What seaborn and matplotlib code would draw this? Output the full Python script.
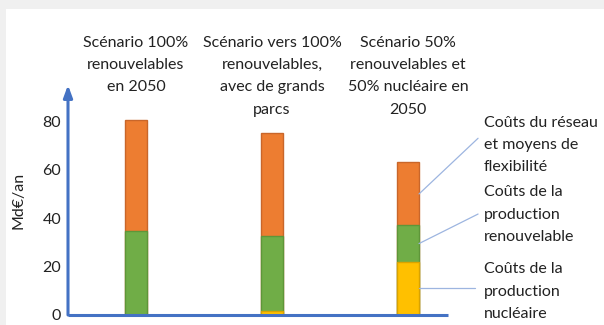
import matplotlib
matplotlib.use("Agg")
import matplotlib.pyplot as plt
import seaborn as sns
import pandas as pd

# Scenario costs (Md€/an)
scenarios = [
    "Scénario 100%\nrenouvelables\nen 2050",
    "Scénario vers 100%\nrenouvelables,\navec de grands\nparcs",
    "Scénario 50%\nrenouvelables et\n50% nucléaire en\n2050",
]
nucleaire = [0.0, 1.5, 22.0]
renouvelable = [34.5, 31.0, 15.0]
reseau = [46.0, 42.5, 26.0]

series_labels = [
    "Coûts de la\nproduction\nnucléaire",
    "Coûts de la\nproduction\nrenouvelable",
    "Coûts du réseau\net moyens de\nflexibilité",
]
yticks = [0, 20, 40, 60, 80]
ylabel = "Md€/an"

colors = ["#FFC000", "#70AD47", "#ED7D31"]
edges = ["#D9A300", "#5E9639", "#C9662A"]
axis_blue = "#4472C4"
leader_blue = "#9DB5E0"

sns.set_theme(style="white")
plt.rcParams["font.family"] = ["Lato", "DejaVu Sans"]

df = pd.DataFrame({
    "scenario": scenarios,
    "nucleaire": nucleaire,
    "renouvelable": renouvelable,
    "reseau": reseau,
})
df["cum1"] = df["nucleaire"]
df["cum2"] = df["cum1"] + df["renouvelable"]
df["cum3"] = df["cum2"] + df["reseau"]

fig = plt.figure(figsize=(6.04, 3.25), dpi=100, facecolor="#F0F0F0")
panel = plt.Rectangle((6 / 604, 0), 1 - 6 / 604, 1 - 9 / 325,
                      transform=fig.transFigure, facecolor="white",
                      edgecolor="none", zorder=-10)
fig.patches.append(panel)
ax = fig.add_axes([68 / 604, 10 / 325, 380 / 604, 230 / 325])
ax.set_facecolor("none")
ax.set_zorder(5)

bar_w = 0.162
# Stacked look: draw cumulative totals, tallest first
for col, c, e in zip(["cum3", "cum2", "cum1"], colors[::-1], edges[::-1]):
    sns.barplot(data=df, x="scenario", y=col, ax=ax, color=c, width=bar_w,
                edgecolor=e, linewidth=1.0, saturation=1)

ax.set_xlim(-0.5, 2.294)
ax.set_ylim(0, 95)
ax.set_yticks(yticks)
ax.set_yticklabels([str(v) for v in yticks], fontsize=11.5, color="#222222")
ax.tick_params(axis="y", length=0, pad=5)
ax.set_xticks([])
ax.set_xlabel("")
ax.set_ylabel(ylabel, fontsize=11.5, color="#222222", labelpad=12)
for s in ax.spines.values():
    s.set_visible(False)

# Axes drawn as blue lines, y-axis with arrow head
ax.plot([0, 1], [0, 0], transform=ax.transAxes, color=axis_blue, lw=2.2,
        clip_on=False, solid_capstyle="butt")
ax.annotate("", xy=(0, 1.0), xytext=(0, 0), xycoords="axes fraction",
            arrowprops=dict(arrowstyle="-|>,head_width=0.22,head_length=0.6",
                            color=axis_blue, lw=2.2, shrinkA=0, shrinkB=0))

# Scenario titles above each bar
for i, name in enumerate(scenarios):
    ax.text(i, 1.215, name, transform=ax.get_xaxis_transform(), ha="center",
            va="top", fontsize=11.5, linespacing=1.76, color="#222222")

# Series labels with leader lines to the last bar
last = len(scenarios) - 1
x_edge = last + bar_w / 2
mids = [df["cum1"][last] / 2,
        df["cum1"][last] + df["renouvelable"][last] / 2,
        df["cum2"][last] + df["reseau"][last] / 2]
text_top = [21.7, 53.5, 82.4]
line_end = [(2.49, mids[0]), (2.515, 41.7), (2.515, 73.0)]
for lab, m, ty, (lx, ly) in zip(series_labels, mids, text_top, line_end):
    ax.plot([x_edge, lx], [m, ly], color=leader_blue, lw=0.9, clip_on=False)
    ax.text(2.559, ty, lab, ha="left", va="top", fontsize=11.5,
            linespacing=1.76, color="#222222", clip_on=False)

fig.savefig("out.png", dpi=100, facecolor=fig.get_facecolor())
